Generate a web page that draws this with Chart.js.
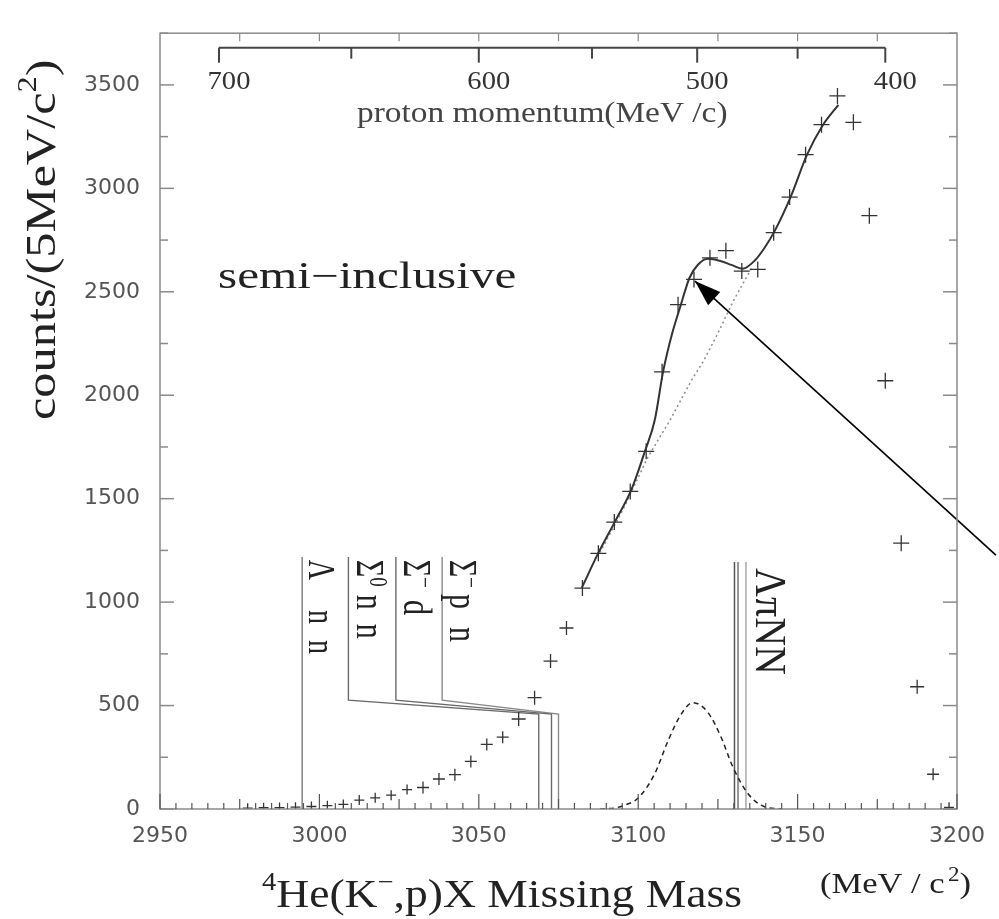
<!DOCTYPE html>
<html>
<head>
<meta charset="utf-8">
<script src="https://cdn.jsdelivr.net/npm/chart.js@4.4.1/dist/chart.umd.min.js"></script>
<style>
  html, body { margin: 0; padding: 0; background: #fff; }
  #wrap { width: 999px; height: 919px; }
</style>
</head>
<body>
<div id="wrap"><canvas id="chart" width="999" height="919"></canvas></div>
<script>
// measured spectrum, 5 MeV bins
const massBins = [2977.5, 2982.5, 2987.5, 2992.5, 2997.5, 3002.5, 3007.5, 3012.5, 3017.5, 3022.5,
  3027.5, 3032.5, 3037.5, 3042.5, 3047.5, 3052.5, 3057.5, 3062.5, 3067.5, 3072.5,
  3077.5, 3082.5, 3087.5, 3092.5, 3097.5, 3102.5, 3107.5, 3112.5, 3117.5, 3122.5,
  3127.5, 3132.5, 3137.5, 3142.5, 3147.5, 3152.5, 3157.5, 3162.5, 3167.5, 3172.5,
  3177.5, 3182.5, 3187.5, 3192.5, 3197.5];
const counts = [4, 6, 7, 9, 12, 16, 22, 43, 54, 67,
  94, 104, 145, 166, 230, 312, 347, 435, 538, 715,
  875, 1068, 1236, 1387, 1535, 1729, 2113, 2438, 2560, 2664,
  2699, 2600, 2608, 2786, 2958, 3163, 3308, 3447, 3319, 2868,
  2070, 1285, 591, 168, 8];

// tick labels
const xTicks = [2950, 3000, 3050, 3100, 3150, 3200];
const yTicks = [0, 500, 1000, 1500, 2000, 2500, 3000, 3500];

// fit curve (solid)
const fitMass = [3082.3, 3087.5, 3092.7, 3097.9, 3102.1, 3105.2, 3107.8, 3110.5, 3113.4, 3116.1,
  3118.8, 3121.9, 3126.0, 3129.2, 3132.8, 3136.5, 3139.6, 3142.7, 3147.8, 3153.0, 3157.8, 3162.8];
const fitCounts = [1069, 1238, 1389, 1545, 1729, 1880, 2113, 2290, 2438, 2568,
  2632, 2660, 2648, 2630, 2612, 2650, 2712, 2791, 2958, 3164, 3303, 3404];

// background (dotted)
const bgMass = [3088, 3095, 3103, 3110, 3116.7, 3120.3, 3125, 3130, 3133.3, 3136];
const bgCounts = [1240, 1440, 1700, 1880, 2072, 2160, 2300, 2460, 2552, 2625];

// peak component (dashed)
const peakMass = [3088, 3092.7, 3096, 3100, 3105.2, 3109.4, 3113.5, 3117.2, 3121.9, 3126, 3129.7, 3134.4, 3139.6, 3145];
const peakCounts = [0, 5, 20, 53, 171, 331, 459, 514, 466, 347, 203, 75, 11, 0];

// thresholds
const lamNNMass = [2994.6, 2994.6];
const lamNNCounts = [1218, 0];
const sig0nnMass = [3009.1, 3009.1, 3068.8, 3068.8];
const sigMdMass = [3024.0, 3024.0, 3072.8, 3072.8];
const sigMpnMass = [3038.5, 3038.5, 3075.0, 3075.0];
const sigStepCounts = [1218, 526, 459, 0];
const lamPiNNMass = [3130.2, 3131.3, 3133.8];
const lamPiNNTop = 1194;

// upper axis: proton momentum (MeV/c) and the missing mass it sits at
const momTicks = [700, 650, 600, 550, 500, 450, 400];
const momMass = [2968.5, 3010.0, 3050.0, 3085.5, 3118.5, 3150.0, 3177.5];
const momBarCounts = 3680;

// arrow (tail, tip)
const arrowMass = [3212.2, 3117.8];
const arrowCounts = [1227, 2552];

const pts = (xs, ys) => xs.map((x, i) => ({ x: x, y: ys[i] }));
const vline = (m, top) => [{ x: m, y: top }, { x: m, y: 0 }];

function rich(ctx, parts, x, y, angle, sx, sy, color) {
  ctx.save();
  ctx.translate(x, y);
  ctx.rotate(angle);
  ctx.scale(sx, sy);
  ctx.fillStyle = color || '#222';
  ctx.textBaseline = 'alphabetic';
  ctx.textAlign = 'left';
  let cx = 0;
  parts.forEach(p => {
    cx += p.dx || 0;
    ctx.font = `${p.size}px "Liberation Serif"`;
    ctx.fillText(p.t, cx, -(p.rise || 0));
    cx += ctx.measureText(p.t).width;
  });
  ctx.restore();
}

const decor = {
  id: 'decor',
  afterDraw(chart) {
    const { ctx, chartArea: a, scales: { x, y } } = chart;
    const seg = (x1, y1, x2, y2) => { ctx.beginPath(); ctx.moveTo(x1, y1); ctx.lineTo(x2, y2); ctx.stroke(); };
    ctx.save();

    // frame and inward ticks
    ctx.strokeStyle = '#8a8a8a';
    ctx.lineWidth = 1.5;
    ctx.strokeRect(a.left, a.top, a.right - a.left, a.bottom - a.top);
    for (let v = 0; v <= 3750; v += 250) {
      const py = y.getPixelForValue(v);
      const len = v % 500 === 0 ? 14 : 8;
      seg(a.left, py, a.left + len, py);
      seg(a.right, py, a.right - len, py);
    }
    ctx.strokeStyle = '#555';
    ctx.lineWidth = 1.2;
    for (let m = 2950; m <= 3200; m += 5) {
      const px = x.getPixelForValue(m);
      const len = m % 50 === 0 ? 15 : (m % 25 === 0 ? 10 : 6);
      seg(px, a.bottom, px, a.bottom - len);
    }
    ctx.strokeStyle = '#8a8a8a';
    for (let m = 2975; m < 3200; m += 25) {
      const px = x.getPixelForValue(m);
      seg(px, a.top, px, a.top + 8);
    }

    // proton momentum axis ticks and labels
    ctx.strokeStyle = '#444';
    ctx.lineWidth = 2;
    const barY = y.getPixelForValue(momBarCounts);
    momTicks.forEach((p, i) => {
      const px = x.getPixelForValue(momMass[i]);
      const major = p % 100 === 0;
      seg(px, barY, px, barY + (major ? 15 : 11));
      if (major) {
        ctx.save();
        ctx.font = '26px "Liberation Serif"';
        const w = ctx.measureText(String(p)).width * 1.1;
        ctx.restore();
        rich(ctx, [{ t: String(p), size: 26 }], px + 10 - w / 2, barY + 41, 0, 1.1, 1, '#333');
      }
    });
    rich(ctx, [{ t: 'proton momentum(MeV /c)', size: 29 }], 357, 122, 0, 1.15, 1, '#444');

    // arrow head
    const tx = x.getPixelForValue(arrowMass[1]), ty = y.getPixelForValue(arrowCounts[1]);
    const bx = x.getPixelForValue(arrowMass[0]), by = y.getPixelForValue(arrowCounts[0]);
    const ang = Math.atan2(ty - by, tx - bx);
    const L = 26, W = 9;
    ctx.fillStyle = '#000';
    ctx.beginPath();
    ctx.moveTo(tx, ty);
    ctx.lineTo(tx - L * Math.cos(ang) + W * Math.sin(ang), ty - L * Math.sin(ang) - W * Math.cos(ang));
    ctx.lineTo(tx - L * Math.cos(ang) - W * Math.sin(ang), ty - L * Math.sin(ang) + W * Math.cos(ang));
    ctx.closePath();
    ctx.fill();

    // annotations
    rich(ctx, [{ t: 'semi\u2212inclusive', size: 37 }], 218, 288, 0, 1.33, 1, '#222');
    const R = Math.PI / 2;
    rich(ctx, [{ t: '\u039b', size: 28 }, { t: 'n', size: 28, dx: 30 }, { t: 'n', size: 28, dx: 16 }],
      x.getPixelForValue(2996.6), y.getPixelForValue(1205), R, 1, 1.35, '#222');
    rich(ctx, [{ t: '\u03a3', size: 30 }, { t: '0', size: 19, rise: 10 }, { t: 'n', size: 30, dx: 8 }, { t: 'n', size: 30, dx: 14 }],
      x.getPixelForValue(3011.9), y.getPixelForValue(1205), R, 1, 1.3, '#222');
    rich(ctx, [{ t: '\u03a3', size: 30 }, { t: '\u2212', size: 19, rise: 10 }, { t: 'd', size: 30, dx: 12 }],
      x.getPixelForValue(3026.6), y.getPixelForValue(1205), R, 1, 1.3, '#222');
    rich(ctx, [{ t: '\u03a3', size: 30 }, { t: '\u2212', size: 19, rise: 10 }, { t: 'p', size: 30, dx: 6 }, { t: 'n', size: 30, dx: 18 }],
      x.getPixelForValue(3041.0), y.getPixelForValue(1205), R, 1, 1.3, '#222');
    rich(ctx, [{ t: '\u039b\u03c0NN', size: 40 }],
      x.getPixelForValue(3136.9), y.getPixelForValue(1165), R, 1, 1.1, '#222');

    // axis titles
    rich(ctx, [{ t: 'counts/(5MeV/c', size: 42 }, { t: '2', size: 27, rise: 19 }, { t: ')', size: 42 }],
      55, 420, -R, 1.2, 1, '#222');
    rich(ctx, [{ t: '4', size: 25, rise: 17 }, { t: 'He(K', size: 40 }, { t: '\u2212', size: 25, rise: 17 },
      { t: ',p)X Missing Mass', size: 40 }], 262, 907, 0, 1.14, 1, '#222');
    rich(ctx, [{ t: '(MeV / c', size: 30 }, { t: '2', size: 20, rise: 12, dx: 3 }, { t: ')', size: 30 }],
      820, 893, 0, 1.15, 1, '#222');
    ctx.restore();
  }
};

const lineSet = (data, color, width, dash, extra) => Object.assign({
  type: 'line', data: data, showLine: true, pointRadius: 0, borderColor: color,
  borderWidth: width, borderDash: dash || [], fill: false, tension: 0
}, extra || {});

new Chart(document.getElementById('chart'), {
  type: 'scatter',
  data: {
    datasets: [
      {
        type: 'scatter', data: pts(massBins, counts), pointStyle: 'cross',
        pointRadius: c => { const v = c.raw ? c.raw.y : 0; return v > 1000 ? 8 : v > 400 ? 7 : v > 100 ? 6 : 5; },
        pointBorderColor: '#333', pointBorderWidth: 1.3, pointBackgroundColor: '#333'
      },
      lineSet(pts(fitMass, fitCounts), '#333', 2, [], { cubicInterpolationMode: 'monotone' }),
      lineSet(pts(bgMass, bgCounts), '#8c8c8c', 1.5, [2, 3]),
      lineSet(pts(peakMass, peakCounts), '#222', 1.5, [5, 4], { cubicInterpolationMode: 'monotone' }),
      lineSet(pts(lamNNMass, lamNNCounts), '#8c8c8c', 1.6),
      lineSet(pts(sig0nnMass, sigStepCounts), '#6a6a6a', 1.4),
      lineSet(pts(sigMdMass, sigStepCounts), '#6a6a6a', 1.4),
      lineSet(pts(sigMpnMass, sigStepCounts), '#8a8a8a', 1.4),
      lineSet(vline(lamPiNNMass[0], lamPiNNTop), '#555', 1.5),
      lineSet(vline(lamPiNNMass[1], lamPiNNTop), '#777', 1.5),
      lineSet(vline(lamPiNNMass[2], lamPiNNTop), '#999', 1.3),
      lineSet([{ x: momMass[0], y: momBarCounts }, { x: momMass[momMass.length - 1], y: momBarCounts }], '#444', 2),
      lineSet(pts(arrowMass, arrowCounts), '#000', 1.6, [], { clip: false })
    ]
  },
  options: {
    responsive: false,
    animation: false,
    layout: { padding: { top: 27, right: 38, left: 0, bottom: 0 } },
    plugins: { legend: { display: false }, tooltip: { enabled: false } },
    scales: {
      x: {
        type: 'linear', min: 2950, max: 3200,
        afterFit: s => { s.height = 110; },
        afterBuildTicks: s => { s.ticks = xTicks.map(v => ({ value: v })); },
        grid: { display: false, drawTicks: false },
        border: { display: false },
        ticks: { padding: 14, color: '#555', maxRotation: 0, autoSkip: false,
          callback: v => String(v), font: { family: 'DejaVu Sans', size: 22 } }
      },
      y: {
        type: 'linear', min: 0, max: 3750,
        afterFit: s => { s.width = 160; },
        afterBuildTicks: s => { s.ticks = yTicks.map(v => ({ value: v })); },
        grid: { display: false, drawTicks: false },
        border: { display: false },
        ticks: { padding: 20, color: '#555', autoSkip: false,
          callback: v => String(v), font: { family: 'DejaVu Sans', size: 22 } }
      }
    }
  },
  plugins: [decor]
});
</script>
</body>
</html>
